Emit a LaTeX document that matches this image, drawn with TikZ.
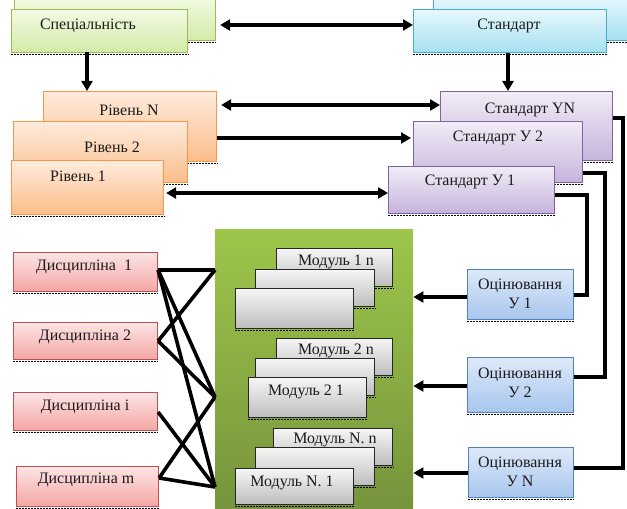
\documentclass[tikz,border=0pt]{standalone}
\usepackage{fontspec}
\setmainfont{Liberation Serif}
\usetikzlibrary{arrows.meta}
\definecolor{grnB}{HTML}{9BBB59}\definecolor{grnT}{HTML}{F3FAE4}\definecolor{grnD}{HTML}{D3EBA6}
\definecolor{cyaB}{HTML}{4BACC6}\definecolor{cyaT}{HTML}{E8F8FC}\definecolor{cyaD}{HTML}{A3E0F1}
\definecolor{orgB}{HTML}{F79646}\definecolor{orgT}{HTML}{FEEBDD}\definecolor{orgD}{HTML}{FBBD89}
\definecolor{purB}{HTML}{8064A2}\definecolor{purT}{HTML}{F1ECF6}\definecolor{purD}{HTML}{C6B4DC}
\definecolor{redB}{HTML}{C0504D}\definecolor{redT}{HTML}{FCE4E4}\definecolor{redD}{HTML}{F4A6A5}
\definecolor{bluB}{HTML}{4F81BD}\definecolor{bluT}{HTML}{DDE9F8}\definecolor{bluD}{HTML}{A8C6EE}
\definecolor{gryT}{HTML}{F6F6F6}\definecolor{gryD}{HTML}{BDBDBD}
\definecolor{panT}{HTML}{9DC64B}\definecolor{panD}{HTML}{76943C}
\definecolor{txt}{HTML}{1A1A1A}
\newcommand\mkbox[6]{%
  \node[#1, minimum width={((#5)-(#3))*1bp}, minimum height={((#6)-(#4))*1bp}] (#2) at (#3,#4) {};
  \draw[shd] ([yshift=-1.6bp]#2.south west) -- ([yshift=-1.6bp]#2.south east);}
\tikzset{
  bx/.style={draw, line width=1.1bp, inner sep=0pt, anchor=north west},
  gbox/.style={bx, draw=grnB, top color=grnT, bottom color=grnD},
  cbox/.style={bx, draw=cyaB, top color=cyaT, bottom color=cyaD},
  obox/.style={bx, draw=orgB, top color=orgT, bottom color=orgD},
  pbox/.style={bx, draw=purB, top color=purT, bottom color=purD},
  rbox/.style={bx, draw=redB, top color=redT, bottom color=redD},
  ubox/.style={bx, draw=bluB, top color=bluT, bottom color=bluD},
  mbox/.style={bx, draw=black!85, top color=gryT, bottom color=gryD},
  panel/.style={inner sep=0pt, anchor=north west, top color=panT, bottom color=panD},
  lbl/.style={font=\fontsize{16}{19}\selectfont, text=txt, inner sep=0pt, align=center},
  shd/.style={dash pattern=on 1.5bp off 1.5bp, line width=1.4bp, black},
  tipA/.tip={Triangle[length=10bp,width=11bp]},
  arr/.style={line width=3.6bp, -tipA},
  arr2/.style={line width=3.6bp, tipA-tipA},
  conn/.style={line width=3.6bp},
}
\begin{document}
\begin{tikzpicture}[x=1bp,y=-1bp]
\clip (0,0) rectangle (627,509);
\fill[white] (0,0) rectangle (627,509);
% top row
\mkbox{gbox}{specB}{14}{-5}{215}{40}
\mkbox{gbox}{specF}{11}{9}{187}{52}
\node[lbl] (tSpec) at (88,26) {Спеціальність};
\mkbox{cbox}{stdB}{433}{-5}{640}{40}
\mkbox{cbox}{stdF}{413}{9}{606}{52}
\node[lbl] (tStd) at (509,26) {Стандарт};
% levels
\mkbox{obox}{lvN}{43}{91}{216}{161}
\mkbox{obox}{lv2}{13}{121}{187}{182}
\mkbox{obox}{lv1}{11}{160}{163}{214}
\node[lbl] (tlvN) at (129,110) {Рівень N};
\node[lbl] (tlv2) at (112,147) {Рівень 2};
\node[lbl] (tlv1) at (78,176) {Рівень 1};
% standards
\mkbox{pbox}{stN}{440}{91}{612}{160}
\mkbox{pbox}{st2}{413}{121}{582}{182}
\mkbox{pbox}{st1}{388}{166}{554}{213}
\node[lbl] (tstN) at (530,110) {Стандарт YN};
\node[lbl] (tst2) at (498,138) {Стандарт У 2};
\node[lbl] (tst1) at (470,182) {Стандарт У 1};
% arrows top
\draw[arr2] (specB.east |- 0,25) ++(4,0) -- (stdF.west |- 0,25);
\draw[arr] (87,52) -- (lvN.north -| 87,0);
\draw[arr] (stdF.south -| 508,0) -- (stN.north -| 508,0);
\draw[arr2] (lvN.east |- 0,105) ++(4,0) -- (stN.west |- 0,105);
\draw[arr] (lvN.east |- 0,138) -- ([xshift=-2bp]st2.west |- 0,138);
\draw[arr2] (lv1.east |- 0,193) ++(2,0) -- (st1.west |- 0,193);
% evaluation boxes
\mkbox{ubox}{ev1}{467}{269}{573}{319}
\mkbox{ubox}{ev2}{467}{357}{573}{412}
\mkbox{ubox}{evN}{468}{447}{573}{497}
\node[lbl] (tev1) at (520,294) {Оцінювання\\У 1};
\node[lbl] (tev2) at (520,383) {Оцінювання\\У 2};
\node[lbl] (tevN) at (520,472) {Оцінювання\\У N};
% right connectors
\draw[conn] (stN.east |- 0,118) -- (623,118) |- (evN.east |- 0,468);
\draw[conn] (st2.east |- 0,173) -- (605,173) |- (ev2.east |- 0,377);
\draw[conn] (st1.east |- 0,195) -- (587,195) |- (ev1.east |- 0,295);
% panel
\node[panel, minimum width=198bp, minimum height=279bp] (pan) at (215,229) {};
\coordinate (P1) at (215,270);
\coordinate (P2) at (215,397);
\coordinate (P3) at (215,487);
\draw[arr] (ev1.west |- 0,297) -- (pan.east |- 0,297);
\draw[arr] (ev2.west |- 0,386) -- (pan.east |- 0,386);
\draw[arr] (evN.west |- 0,473) -- (pan.east |- 0,473);
% modules
\mkbox{mbox}{m1c}{276}{248}{392}{286}
\mkbox{mbox}{m1b}{255}{269}{374}{306}
\mkbox{mbox}{m1a}{235}{288}{353}{328}
\node[lbl] (tm1) at (336,262) {Модуль 1 n};
\mkbox{mbox}{m2c}{276}{338}{392}{375}
\mkbox{mbox}{m2b}{255}{358}{374}{395}
\mkbox{mbox}{m2a}{248}{377}{366}{417}
\node[lbl] (tm2n) at (336,351) {Модуль 2 n};
\node[lbl] (tm21) at (306,392) {Модуль 2 1};
\mkbox{mbox}{m3c}{273}{428}{392}{465}
\mkbox{mbox}{m3b}{255}{447}{374}{485}
\mkbox{mbox}{m3a}{235}{468}{353}{504}
\node[lbl] (tm3n) at (335,440) {Модуль N. n};
\node[lbl] (tm31) at (292,483) {Модуль N. 1};
% disciplines
\mkbox{rbox}{d1}{13}{252}{157}{291}
\mkbox{rbox}{d2}{13}{322}{157}{359}
\mkbox{rbox}{di}{13}{392}{157}{430}
\mkbox{rbox}{dm}{16}{466}{158}{506}
\node[lbl] (td1) at (84,267) {Дисципліна\ \ 1};
\node[lbl] (td2) at (85,337) {Дисципліна 2};
\node[lbl] (tdi) at (85,407) {Дисципліна і};
\node[lbl] (tdm) at (86,480) {Дисципліна m};
\draw[conn] (d1.east |- 0,270) -- (P1);
\draw[conn] (d1.east |- 0,270) -- (P2);
\draw[conn] (d1.east |- 0,270) -- (P3);
\draw[conn] (d2.east |- 0,341) -- (P1);
\draw[conn] (d2.east |- 0,341) -- (P2);
\draw[conn] (di.east |- 0,412) -- (P3);
\draw[conn] (dm.east |- 0,478) -- (P2);
\draw[conn] (dm.east |- 0,478) -- (P3);
\end{tikzpicture}
\end{document}
